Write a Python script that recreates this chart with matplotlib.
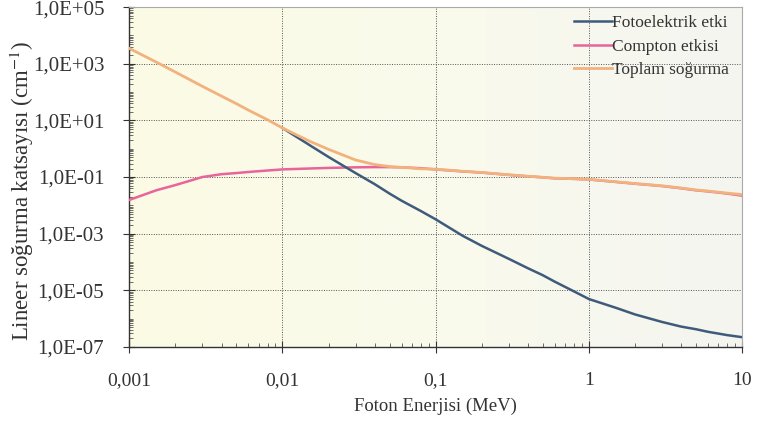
import matplotlib
matplotlib.use("Agg")
import matplotlib.pyplot as plt
import numpy as np
from matplotlib.ticker import FixedLocator, LogLocator, FuncFormatter, NullFormatter
from matplotlib.colors import LinearSegmentedColormap

plt.rcParams['font.family'] = ['Liberation Serif', 'DejaVu Serif']
plt.rcParams['mathtext.fontset'] = 'stix'

# foton enerjisi (MeV)
energy = [0.001, 0.0015, 0.002, 0.003, 0.004, 0.005, 0.006, 0.008,
          0.01, 0.015, 0.02, 0.03, 0.04, 0.05, 0.06, 0.08,
          0.1, 0.15, 0.2, 0.3, 0.4, 0.5, 0.6, 0.8,
          1, 1.5, 2, 3, 4, 5, 6, 8, 10]

# fotoelektrik etki, 0.01 MeV'den itibaren
photo_energy = energy[8:]
photo = [5.4, 1.35, 0.51, 0.138, 0.056, 0.026, 0.0145, 0.0063,
         0.0032, 8.4e-4, 3.7e-4, 1.29e-4, 6.0e-5, 3.4e-5, 2.0e-5, 9.1e-6,
         4.9e-6, 2.4e-6, 1.4e-6, 7.6e-7, 5.2e-7, 4.2e-7, 3.4e-7, 2.6e-7, 2.2e-7]

compton = [0.0155, 0.034, 0.052, 0.10, 0.126, 0.138, 0.151, 0.17,
           0.186, 0.20, 0.21, 0.22, 0.224, 0.224, 0.22, 0.205,
           0.185, 0.158, 0.143, 0.119, 0.106, 0.097, 0.09, 0.086,
           0.082, 0.067, 0.058, 0.048, 0.040, 0.034, 0.031, 0.026, 0.022]

total = [3500, 1150, 510, 160, 72, 39, 23, 10.5,
         5.4, 1.85, 0.95, 0.40, 0.275, 0.235, 0.22, 0.195,
         0.19, 0.16, 0.145, 0.12, 0.107, 0.098, 0.091, 0.087,
         0.083, 0.068, 0.059, 0.049, 0.041, 0.035, 0.032, 0.027, 0.024]

fig = plt.figure(figsize=(7.65, 4.23), dpi=100)
fig.patch.set_facecolor('white')
ax = fig.add_axes([0.169, 0.18, 0.801, 0.803])

# hafif sarımsı zemin
bg = LinearSegmentedColormap.from_list('bg', ['#fcfbe4', '#fafaec', '#f4f5f0'])
ax.imshow(np.linspace(0, 1, 256).reshape(1, -1), cmap=bg, aspect='auto',
          extent=[0, 1, 0, 1], transform=ax.transAxes, zorder=0)

ax.set_xscale('log')
ax.set_yscale('log')
ax.set_xlim(0.001, 10)
ax.set_ylim(1e-7, 1e5)

ax.plot(energy, compton, color='#e8649a', lw=1.8, zorder=3, label='Compton etkisi')
ax.plot(photo_energy, photo, color='#3f5b7c', lw=1.8, zorder=4, label='Fotoelektrik etki')
ax.plot(energy, total, color='#f2b27e', lw=2.0, zorder=5, label='Toplam soğurma')

ax.yaxis.set_major_locator(FixedLocator([1e-7, 1e-5, 1e-3, 1e-1, 1e1, 1e3, 1e5]))
ax.yaxis.set_minor_locator(LogLocator(base=10, subs=np.arange(1, 10), numticks=40))
ax.yaxis.set_minor_formatter(NullFormatter())
ax.yaxis.set_major_formatter(FuncFormatter(lambda v, p: "1,0E%+03d" % int(round(np.log10(v)))))

ax.xaxis.set_major_locator(FixedLocator([0.001, 0.01, 0.1, 1, 10]))
ax.xaxis.set_minor_locator(LogLocator(base=10, subs=np.arange(2, 10), numticks=40))
ax.xaxis.set_minor_formatter(NullFormatter())
ax.xaxis.set_major_formatter(FuncFormatter(lambda v, p: ("%g" % v).replace('.', ',')))

ax.tick_params(axis='both', which='major', direction='inout', length=8, width=0.8,
               colors='#333333')
ax.tick_params(axis='x', which='major', labelsize=14, pad=14)
ax.tick_params(axis='y', which='major', labelsize=15, pad=14)
ax.tick_params(axis='both', which='minor', direction='in', length=3, width=0.6, colors='#555555')

ax.grid(True, which='major', color='#555555', linestyle=(0, (1, 1.5)), linewidth=0.7, zorder=1)

for side in ['left', 'bottom']:
    ax.spines[side].set_color('#333333')
    ax.spines[side].set_linewidth(1.0)
for side in ['top', 'right']:
    ax.spines[side].set_color('#aaaaaa')
    ax.spines[side].set_linewidth(0.8)

ax.set_xlabel('Foton Enerjisi (MeV)', fontsize=13.5, color='#333333', labelpad=6)
ax.set_ylabel('Lineer soğurma katsayısı (cm$^{-1}$)', fontsize=16.5, color='#333333')
ax.yaxis.set_label_coords(-0.153, 0.46)

handles, labels = ax.get_legend_handles_labels()
order = [1, 0, 2]
leg = ax.legend([handles[i] for i in order], [labels[i] for i in order],
                loc='upper right', bbox_to_anchor=(0.998, 1.012), frameon=False,
                fontsize=12.5, handlelength=2.2, handletextpad=0.0,
                labelspacing=0.42, borderaxespad=0.3)
for t in leg.get_texts():
    t.set_color('#333333')

fig.savefig('out.png', dpi=100)
